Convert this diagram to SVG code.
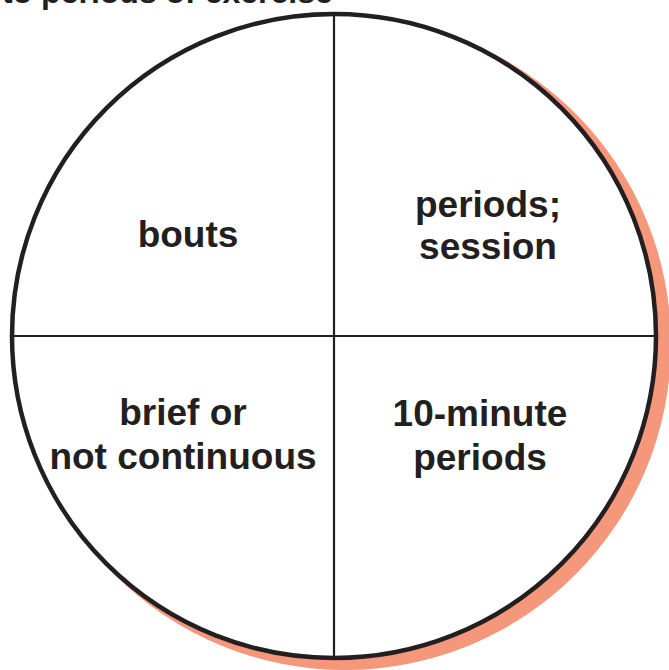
<svg xmlns="http://www.w3.org/2000/svg" width="669" height="670" viewBox="0 0 669 670">
<style>
.lbl{font-family:"Liberation Sans",Arial,sans-serif;font-weight:bold;font-size:37px;fill:#231f20;text-anchor:middle}
.div{stroke:#231f20;stroke-width:2.2;fill:none}
</style>
<rect width="669" height="670" fill="#ffffff"/>
<text x="2" y="3" style="font-family:'Liberation Sans',Arial,sans-serif;font-weight:bold;font-size:32px;fill:#231f20">to periods of exercise</text>
<g id="shadow"><circle cx="345" cy="344" r="326" fill="#f5977a"/></g>
<g id="circle"><circle cx="334" cy="336" r="322" fill="#ffffff" stroke="#231f20" stroke-width="4.5"/></g>
<g id="connectors">
<line class="div" x1="334" y1="16" x2="334" y2="656"/>
<line class="div" x1="14" y1="336" x2="654" y2="336"/>
</g>
<g id="q-top-left"><text class="lbl" x="188" y="247">bouts</text></g>
<g id="q-top-right"><text class="lbl" x="488" y="217">periods;</text><text class="lbl" x="488" y="259">session</text></g>
<g id="q-bottom-left"><text class="lbl" x="183" y="425">brief or</text><text class="lbl" x="183" y="469">not continuous</text></g>
<g id="q-bottom-right"><text class="lbl" x="480" y="426">10-minute</text><text class="lbl" x="480" y="470">periods</text></g>
</svg>
